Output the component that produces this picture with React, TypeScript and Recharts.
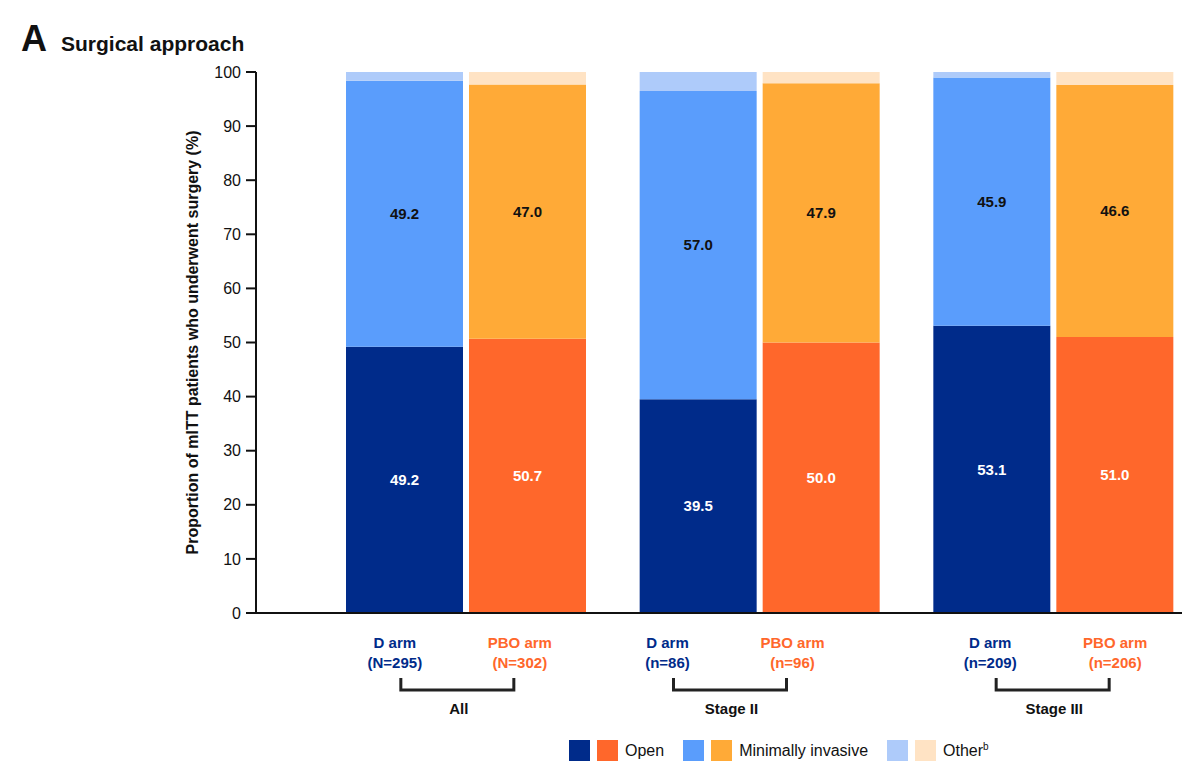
import { BarChart, Bar, XAxis, YAxis, LabelList } from "recharts";

const groups = ["All", "Stage II", "Stage III"];
const dCounts = ["N=295", "n=86", "n=209"];
const pboCounts = ["N=302", "n=96", "n=206"];

const dOpen = [49.2, 39.5, 53.1];
const dMinInv = [49.2, 57.0, 45.9];
const dOther = [1.6, 3.5, 1.0];

const pboOpen = [50.7, 50.0, 51.0];
const pboMinInv = [47.0, 47.9, 46.6];
const pboOther = [2.3, 2.1, 2.4];

const yTicks = [0, 10, 20, 30, 40, 50, 60, 70, 80, 90, 100];

const NAVY = "#002B8A";
const BLUE = "#5A9DFC";
const LIGHT_BLUE = "#AECBFA";
const ORANGE = "#FF672B";
const AMBER = "#FFAA37";
const PEACH = "#FFE3C4";

const FONT = "'Liberation Sans', Arial, sans-serif";

// small per-group nudges of the arm labels, as in the source figure
const labelShift = [-8, -29, 0];

const rows = groups.map((g, i) => ({
  group: g,
  dOpen: dOpen[i],
  dMinInv: dMinInv[i],
  dOther: dOther[i],
  pboOpen: pboOpen[i],
  pboMinInv: pboMinInv[i],
  pboOther: pboOther[i],
}));

const GroupTick = ({ x, y, payload, index }: any) => {
  const i = index ?? groups.indexOf(payload.value);
  const cx = x + labelShift[i];
  const top = y - 613;
  return (
    <g fontFamily={FONT} fontWeight="bold" fontSize={15}>
      <text x={cx - 63} y={top + 640} textAnchor="middle" fill={NAVY}>
        D arm
      </text>
      <text x={cx - 63} y={top + 660} textAnchor="middle" fill={NAVY}>
        ({dCounts[i]})
      </text>
      <text x={cx + 62} y={top + 640} textAnchor="middle" fill={ORANGE}>
        PBO arm
      </text>
      <text x={cx + 62} y={top + 660} textAnchor="middle" fill={ORANGE}>
        ({pboCounts[i]})
      </text>
      <path
        d={`M${cx - 57},${top + 670} V${top + 682} H${cx + 56} V${top + 670}`}
        fill="none"
        stroke="#222"
        strokeWidth={3}
      />
      <text x={cx + 1} y={top + 706} textAnchor="middle" fill="#111" fontSize={15}>
        {payload.value}
      </text>
    </g>
  );
};

const YLabel = ({ viewBox }: any) => {
  const lx = viewBox.x + 192;
  const ly = viewBox.y + viewBox.height / 2;
  return (
    <text
      x={lx}
      y={ly}
      transform={`rotate(-90, ${lx}, ${ly})`}
      textAnchor="middle"
      dominantBaseline="central"
      fontFamily={FONT}
      fontWeight="bold"
      fontSize={16}
      fill="#111"
    >
      Proportion of mITT patients who underwent surgery (%)
    </text>
  );
};

const fmt = (v: any) => Number(v).toFixed(1);

const legendItems = [
  { colors: [NAVY, ORANGE], label: "Open" },
  { colors: [BLUE, AMBER], label: "Minimally invasive" },
  { colors: [LIGHT_BLUE, PEACH], label: "Other", sup: "b" },
];

export default function App() {
  return (
    <div
      style={{
        position: "absolute",
        left: 0,
        top: 0,
        width: 1200,
        height: 781,
        background: "#fff",
        fontFamily: FONT,
      }}
    >
      <div style={{ position: "absolute", left: 21, top: 18, display: "flex", alignItems: "baseline" }}>
        <span style={{ fontSize: 36, fontWeight: "bold", color: "#111" }}>A</span>
        <span style={{ fontSize: 21, fontWeight: "bold", color: "#111", marginLeft: 14 }}>
          Surgical approach
        </span>
      </div>

      <BarChart
        width={1200}
        height={781}
        data={rows}
        margin={{ top: 72, right: 18, left: 0, bottom: 58 }}
        barSize={117}
        barGap={6}
      >
        <XAxis
          dataKey="group"
          type="category"
          height={110}
          padding={{ left: 63, right: -18 }}
          axisLine={{ stroke: "#111", strokeWidth: 2 }}
          tickLine={false}
          tick={<GroupTick />}
          interval={0}
        />
        <YAxis
          type="number"
          domain={[0, 100]}
          ticks={yTicks}
          width={256}
          axisLine={{ stroke: "#111", strokeWidth: 2 }}
          tickLine={{ stroke: "#111", strokeWidth: 2 }}
          tickSize={10}
          tickMargin={5}
          tick={{ fontFamily: FONT, fontSize: 16, fill: "#111" }}
          label={<YLabel />}
        />
        <Bar dataKey="dOpen" stackId="d" fill={NAVY} isAnimationActive={false}>
          <LabelList dataKey="dOpen" position="center" formatter={fmt} fill="#fff" fontFamily={FONT} fontWeight="bold" fontSize={15} />
        </Bar>
        <Bar dataKey="dMinInv" stackId="d" fill={BLUE} isAnimationActive={false}>
          <LabelList dataKey="dMinInv" position="center" formatter={fmt} fill="#111" fontFamily={FONT} fontWeight="bold" fontSize={15} />
        </Bar>
        <Bar dataKey="dOther" stackId="d" fill={LIGHT_BLUE} isAnimationActive={false} />
        <Bar dataKey="pboOpen" stackId="p" fill={ORANGE} isAnimationActive={false}>
          <LabelList dataKey="pboOpen" position="center" formatter={fmt} fill="#fff" fontFamily={FONT} fontWeight="bold" fontSize={15} />
        </Bar>
        <Bar dataKey="pboMinInv" stackId="p" fill={AMBER} isAnimationActive={false}>
          <LabelList dataKey="pboMinInv" position="center" formatter={fmt} fill="#111" fontFamily={FONT} fontWeight="bold" fontSize={15} />
        </Bar>
        <Bar dataKey="pboOther" stackId="p" fill={PEACH} isAnimationActive={false} />
      </BarChart>

      <div
        style={{
          position: "absolute",
          left: 569,
          top: 740,
          display: "flex",
          alignItems: "center",
          fontSize: 16,
          color: "#111",
        }}
      >
        {legendItems.map((item) => (
          <div key={item.label} style={{ display: "flex", alignItems: "center", marginRight: 19 }}>
            <span style={{ width: 21, height: 21, background: item.colors[0], display: "inline-block" }} />
            <span style={{ width: 21, height: 21, background: item.colors[1], display: "inline-block", marginLeft: 7 }} />
            <span style={{ marginLeft: 7 }}>
              {item.label}
              {item.sup && <sup style={{ fontSize: 10 }}>{item.sup}</sup>}
            </span>
          </div>
        ))}
      </div>
    </div>
  );
}
